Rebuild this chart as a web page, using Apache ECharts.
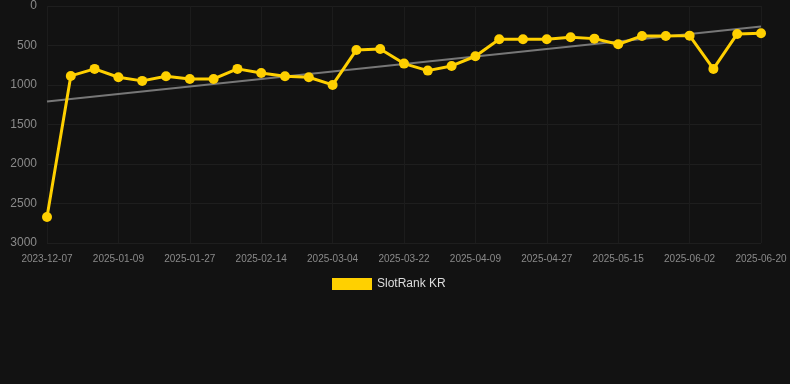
<!DOCTYPE html>
<html><head><meta charset="utf-8">
<script src="https://cdn.jsdelivr.net/npm/echarts@6/dist/echarts.min.js"></script>
<style>html,body{margin:0;padding:0;background:#121212;}#c{width:790px;height:384px;}</style>
</head><body><div id="c"></div>
<script>
const categories = ["2023-12-07","2024-12-31","2025-01-03","2025-01-09","2025-01-15","2025-01-21","2025-01-27","2025-02-02","2025-02-08","2025-02-14","2025-02-20","2025-02-26","2025-03-04","2025-03-10","2025-03-16","2025-03-22","2025-03-28","2025-04-03","2025-04-09","2025-04-15","2025-04-21","2025-04-27","2025-05-03","2025-05-09","2025-05-15","2025-05-21","2025-05-27","2025-06-02","2025-06-08","2025-06-14","2025-06-20"];
const rankValues = [2671,885,796,902,948,889,923,923,796,847,889,902,999,556,544,729,818,759,636,422,422,422,396,413,485,379,379,375,796,354,346];
const trendStart = 1209;
const trendEnd = 261;
const yTicks = [0,500,1000,1500,2000,2500,3000];

const trendData = categories.map((c,i)=> i===0 ? trendStart : (i===categories.length-1 ? trendEnd : null));

const chart = echarts.init(document.getElementById('c'), null, {renderer:'canvas'});
chart.setOption({
  backgroundColor:'#121212',
  animation:false,
  grid:{left:47,right:29,top:6,bottom:141,containLabel:false},
  legend:{
    data:[{name:'SlotRank KR',icon:'rect'}],
    top:273, left:327,
    itemWidth:40,itemHeight:12,itemGap:6,
    textStyle:{color:'#dddddd',fontSize:12,fontFamily:'Liberation Sans, Arial, sans-serif'}
  },
  xAxis:{
    type:'category',data:categories,boundaryGap:false,
    axisLine:{show:false},axisTick:{show:false},
    axisLabel:{interval:2,color:'#8a8a8a',fontSize:10,margin:11,fontFamily:'Liberation Sans, Arial, sans-serif'},
    splitLine:{show:true,interval:2,lineStyle:{color:'#1c1c1c',width:1}}
  },
  yAxis:{
    type:'value',inverse:true,min:yTicks[0],max:yTicks[yTicks.length-1],interval:500,
    axisLine:{show:false},axisTick:{show:false},
    axisLabel:{color:'#8a8a8a',fontSize:12,margin:10,fontFamily:'Liberation Sans, Arial, sans-serif',formatter:v=>String(v)},
    splitLine:{show:true,lineStyle:{color:'#1e1e1e',width:1}}
  },
  series:[
    {name:'SlotRank KR',type:'line',data:rankValues,color:'#FFD000',
     lineStyle:{width:3,color:'#FFD000'},symbol:'circle',symbolSize:10,
     itemStyle:{color:'#FFD000'},z:3},
    {name:'trend',type:'line',data:trendData,connectNulls:true,symbol:'none',
     lineStyle:{width:2,color:'#777777'},itemStyle:{color:'#777777'},z:2,silent:true}
  ]
});
</script></body></html>
